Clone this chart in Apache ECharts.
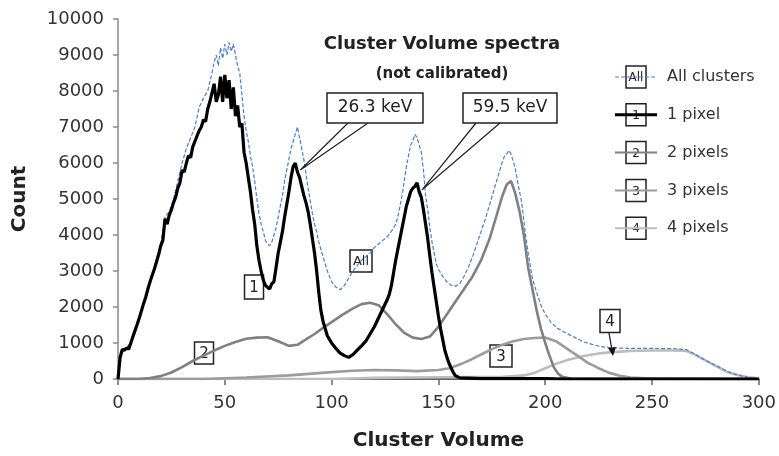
<!DOCTYPE html>
<html>
<head>
<meta charset="utf-8">
<script src="https://cdn.jsdelivr.net/npm/echarts@6/dist/echarts.min.js"></script>
<style>
  html, body { margin: 0; padding: 0; background: #fff; }
  #chart { width: 779px; height: 456px; }
</style>
</head>
<body>
<div id="chart"></div>
<script>
// Cluster volume spectra: counts per cluster volume, split by cluster size.
var xTicks = [0, 50, 100, 150, 200, 250, 300];
var yTicks = [0, 1000, 2000, 3000, 4000, 5000, 6000, 7000, 8000, 9000, 10000];

var seriesNames = ['All clusters', '1 pixel', '2 pixels', '3 pixels', '4 pixels'];
var seriesTags = ['All', '1', '2', '3', '4'];
var peakEnergies = ['26.3 keV', '59.5 keV'];

// [cluster volume, count]
var allClusters = [
  [0,0],[1,600],[2,830],[4,870],[6,1010],[8,1380],[10,1720],[12,2120],[14,2530],[16,2900],[18,3300],[20,3750],
  [22,4500],[24,4650],[26,5000],[28,5500],[30,6000],[32,6400],[34,6700],[36,7000],[38,7550],[40,7800],
  [42,8000],[44,8500],[45,8800],[46,9000],[47,8700],[48,9200],[49,8900],[50,9300],[51,9000],[52,9350],
  [53,9100],[54,9300],[55,9000],[56,8700],[57,8500],[58,7900],[59,7300],[60,6900],[61,6600],[62,6200],
  [63,5900],[64,5500],[65,5000],[66,4600],[67,4300],[68,4100],[69,3850],[70,3750],[71,3700],[72,3800],
  [73,4000],[74,4200],[75,4500],[76,4800],[77,5100],[78,5500],[79,5800],[80,6100],[81,6400],[82,6600],
  [83,6800],[84,7000],[85,6700],[86,6400],[87,6100],[88,5700],[89,5300],[90,4950],[91,4600],[92,4300],
  [93,4100],[94,3800],[96,3400],[98,3000],[100,2700],[102,2550],[104,2480],[106,2600],[108,2800],
  [110,3000],[112,3150],[114,3300],[116,3400],[118,3500],[120,3650],[122,3750],[124,3850],[126,3950],
  [128,4100],[130,4300],[131,4500],[132,4800],[133,5100],[134,5500],[135,5900],[136,6200],[137,6500],
  [138,6600],[139,6800],[140,6700],[141,6500],[142,6300],[143,5800],[144,5100],[145,4700],[146,4200],
  [147,3800],[148,3500],[149,3200],[150,3050],[152,2850],[154,2700],[156,2600],[158,2580],[160,2650],
  [162,2850],[164,3100],[166,3400],[168,3750],[170,4100],[172,4450],[174,4850],[176,5250],[178,5650],
  [180,6050],[181,6200],[182,6250],[183,6350],[184,6250],[185,6050],[186,5850],[187,5500],[188,5200],
  [189,4900],[190,4400],[191,3900],[192,3500],[193,3150],[194,2800],[196,2400],[198,2050],[200,1800],
  [203,1550],[206,1400],[210,1270],[214,1150],[218,1030],[222,960],[226,900],[230,870],[235,860],
  [240,850],[250,850],[260,840],[266,820],[275,520],[287,160],[295,40],[300,0]
];

var onePixel = [
  [0,0],[1,600],[2,820],[3,800],[4,860],[5,830],[6,1000],[7,1180],[8,1350],[9,1520],[10,1700],[11,1900],
  [12,2100],[13,2280],[14,2500],[15,2700],[16,2880],[17,3050],[18,3250],[19,3450],[20,3700],[21,3850],
  [22,4450],[23,4300],[24,4550],[25,4700],[26,4900],[27,5050],[28,5300],[29,5450],[30,5800],[31,5750],
  [32,6000],[33,6200],[34,6150],[35,6450],[36,6600],[37,6750],[38,6900],[39,7000],[40,7200],[41,7150],
  [42,7500],[43,7700],[44,7950],[45,8200],[46,7700],[47,7900],[48,8400],[49,7700],[50,8450],[51,7800],
  [52,8300],[53,7500],[54,8100],[55,7300],[56,7600],[57,7000],[58,7100],[59,6300],[60,6000],[61,5600],
  [62,5200],[63,4700],[64,4300],[65,3700],[66,3300],[67,3000],[68,2750],[69,2600],[70,2550],[71,2500],
  [72,2650],[73,2700],[74,3100],[75,3500],[76,3800],[77,4100],[78,4500],[79,4850],[80,5200],[81,5600],
  [82,5900],[83,6000],[84,5750],[85,5600],[86,5350],[87,5100],[88,4900],[89,4650],[90,4300],[91,3900],
  [92,3500],[93,3000],[94,2400],[95,1900],[96,1600],[97,1400],[98,1200],[99,1100],[100,1000],[102,850],
  [104,720],[106,650],[108,600],[110,680],[112,800],[114,920],[116,1050],[118,1250],[120,1450],[122,1700],
  [124,1950],[126,2200],[127,2350],[128,2600],[129,2950],[130,3300],[131,3600],[132,3900],[133,4200],
  [134,4500],[135,4800],[136,5000],[137,5200],[138,5300],[139,5350],[140,5450],[141,5200],[142,5050],
  [143,4700],[144,4300],[145,3900],[146,3400],[147,2950],[148,2550],[149,2150],[150,1750],[151,1400],
  [152,1100],[153,800],[154,600],[155,430],[156,300],[157,180],[158,90],[160,30],[170,10],[200,10],
  [210,0],[300,0]
];

var twoPixels = [
  [0,0],[10,0],[15,30],[20,80],[25,180],[30,330],[35,500],[40,650],[45,790],[50,920],[55,1030],[60,1120],
  [65,1150],[70,1160],[75,1050],[80,920],[84,950],[88,1100],[92,1250],[96,1420],[100,1580],[105,1780],
  [110,1960],[114,2080],[118,2120],[122,2050],[126,1800],[130,1520],[134,1280],[138,1150],[142,1110],
  [146,1180],[150,1450],[154,1800],[158,2150],[162,2500],[166,2850],[170,3300],[174,3900],[177,4500],
  [180,5100],[182,5400],[184,5500],[186,5150],[188,4650],[190,4000],[192,3100],[194,2500],[196,1900],
  [198,1400],[200,1000],[202,650],[204,330],[206,150],[208,60],[212,10],[300,0]
];

var threePixels = [
  [0,0],[40,0],[60,40],[80,100],[100,190],[110,230],[120,250],[130,240],[140,220],[150,250],[155,300],
  [160,400],[165,530],[170,680],[175,830],[180,950],[185,1050],[190,1110],[195,1140],[200,1150],[205,1050],
  [210,850],[215,650],[220,450],[225,300],[230,170],[235,90],[240,40],[250,10],[300,0]
];

var fourPixels = [
  [0,0],[100,0],[120,30],[150,50],[180,60],[190,100],[195,170],[200,300],[205,420],[210,520],[215,600],
  [220,660],[225,710],[230,740],[240,780],[250,790],[260,790],[266,780],[270,680],[275,520],[280,360],
  [285,200],[290,110],[295,50],[300,20]
];

var FONT = 'DejaVu Sans';
var seriesData = [allClusters, onePixel, twoPixels, threePixels, fourPixels];
var lineStyles = [
  { color: '#4a7fc8', width: 1.2, type: [4, 2] },
  { color: '#000000', width: 3.2, type: 'solid' },
  { color: '#808080', width: 2.6, type: 'solid' },
  { color: '#9c9c9c', width: 2.6, type: 'solid' },
  { color: '#bdbdbd', width: 2.6, type: 'solid' }
];
// back-to-front drawing order
var drawOrder = [4, 3, 2, 0, 1];

var chart = echarts.init(document.getElementById('chart'), null, { renderer: 'canvas' });

var series = drawOrder.map(function (i) {
  return {
    name: seriesNames[i],
    type: 'line',
    data: seriesData[i],
    showSymbol: false,
    symbol: 'none',
    smooth: false,
    z: 2 + drawOrder.indexOf(i),
    lineStyle: { color: lineStyles[i].color, width: lineStyles[i].width, type: lineStyles[i].type },
    emphasis: { disabled: true },
    silent: true
  };
});

chart.setOption({
  animation: false,
  backgroundColor: '#ffffff',
  title: [{
    text: 'Cluster Volume spectra',
    left: 437, textAlign: 'center', top: 30,
    textStyle: { fontFamily: FONT, fontWeight: 'bold', fontSize: 18, color: '#222' },
    subtext: '(not calibrated)',
    subtextStyle: { fontFamily: FONT, fontWeight: 'bold', fontSize: 15, color: '#222' },
    itemGap: 14
  }],
  grid: { left: 118, right: 19, top: 19, bottom: 72, containLabel: false },
  xAxis: {
    type: 'value', min: xTicks[0], max: xTicks[xTicks.length - 1], interval: xTicks[1] - xTicks[0],
    name: 'Cluster Volume', nameLocation: 'middle', nameGap: 52,
    nameTextStyle: { fontFamily: FONT, fontWeight: 'bold', fontSize: 20, color: '#222' },
    axisLine: { lineStyle: { color: '#666', width: 2 } },
    axisTick: { show: true, inside: false, length: 6, lineStyle: { color: '#666', width: 1.5 } },
    axisLabel: { fontFamily: FONT, fontSize: 18, color: '#333', margin: 15, formatter: function (v) { return String(v); } },
    splitLine: { show: false }
  },
  yAxis: {
    type: 'value', min: yTicks[0], max: yTicks[yTicks.length - 1], interval: yTicks[1] - yTicks[0],
    name: 'Count', nameLocation: 'middle', nameGap: 88,
    nameTextStyle: { fontFamily: FONT, fontWeight: 'bold', fontSize: 20, color: '#222' },
    axisLine: { show: true, lineStyle: { color: '#888', width: 1.5 } },
    axisTick: { show: true, inside: false, length: 5, lineStyle: { color: '#888', width: 1.5 } },
    axisLabel: { fontFamily: FONT, fontSize: 18, color: '#333', margin: 14, formatter: function (v) { return String(v); } },
    splitLine: { show: false }
  },
  series: series
});

// Small boxed tag, used both on the curves and in the legend
function tagBox(cx, cy, w, h, txt, fontSize, z) {
  return {
    type: 'group', z: z || 20,
    children: [
      { type: 'rect', shape: { x: cx - w / 2, y: cy - h / 2, width: w, height: h },
        style: { fill: '#fff', stroke: '#222', lineWidth: 1.5 } },
      { type: 'text', x: cx, y: cy + 1,
        style: { text: txt, fontFamily: FONT, fontSize: fontSize, fill: '#222', align: 'center', verticalAlign: 'middle' } }
    ]
  };
}

var graphics = [];

// Legend on the right
var legendY0 = 77, legendStep = 37.8;
seriesNames.forEach(function (name, i) {
  var y = legendY0 + i * legendStep;
  var st = lineStyles[i];
  graphics.push({
    type: 'line', z: 19,
    shape: { x1: 615, y1: y, x2: 657, y2: y },
    style: { stroke: st.color, lineWidth: i === 0 ? 1.2 : (i === 1 ? 3 : 2), lineDash: i === 0 ? [4, 2] : null }
  });
  graphics.push(tagBox(636, y, 20, 22, seriesTags[i], 12, 20));
  graphics.push({
    type: 'text', x: 667, y: y, z: 20,
    style: { text: name, fontFamily: FONT, fontSize: 16, fill: '#333', align: 'left', verticalAlign: 'middle' }
  });
});

// Tags on the curves
graphics.push(tagBox(254, 287, 19, 24, seriesTags[1], 15));
graphics.push(tagBox(204, 353, 19, 22, seriesTags[2], 15));
graphics.push(tagBox(501, 356, 22, 22, seriesTags[3], 15));
graphics.push(tagBox(361, 261, 22, 22, seriesTags[0], 13));
graphics.push(tagBox(610, 321, 20, 23, seriesTags[4], 15));
// arrow from the "4" tag down to its curve
graphics.push({ type: 'line', z: 21, shape: { x1: 609, y1: 333, x2: 612, y2: 350 }, style: { stroke: '#222', lineWidth: 1.3 } });
graphics.push({ type: 'polygon', z: 21, shape: { points: [[608, 348], [616, 347], [613, 356]] }, style: { fill: '#111' } });

// Peak callouts: tip anchored at the 1-pixel peak inside each window
function peakIn(data, lo, hi) {
  var best = null;
  data.forEach(function (p) { if (p[0] >= lo && p[0] <= hi && (!best || p[1] > best[1])) best = p; });
  return best;
}
var peaks = [peakIn(onePixel, 70, 95), peakIn(onePixel, 125, 150)];
var boxes = [
  { x: 327, w: 96, base: [348, 368] },
  { x: 463, w: 94, base: [476, 500] }
];
peaks.forEach(function (p, k) {
  var tip = chart.convertToPixel({ gridIndex: 0 }, p);
  tip = [tip[0] + 5, tip[1] + 7];
  var b = boxes[k];
  graphics.push({ type: 'polyline', z: 22,
    shape: { points: [[b.base[0], 123], tip, [b.base[1], 123]] },
    style: { stroke: '#222', lineWidth: 1.2, fill: null } });
  graphics.push({ type: 'rect', z: 22, shape: { x: b.x, y: 93, width: b.w, height: 30 },
    style: { fill: '#fff', stroke: '#222', lineWidth: 1.5 } });
  graphics.push({ type: 'text', z: 23, x: b.x + b.w / 2, y: 108,
    style: { text: peakEnergies[k], fontFamily: FONT, fontSize: 17, fill: '#222', align: 'center', verticalAlign: 'middle' } });
});

chart.setOption({ graphic: graphics });
</script>
</body>
</html>
